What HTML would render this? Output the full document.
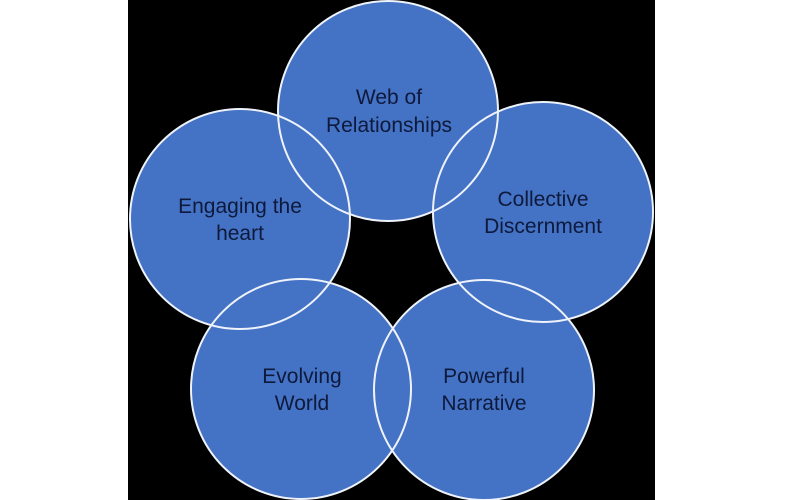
<!DOCTYPE html>
<html><head><meta charset="utf-8"><style>
html,body{margin:0;padding:0;background:#fff;}
svg{display:block;}
text{font-family:"Liberation Sans",sans-serif;font-size:21px;fill:#0e1a3c;text-anchor:middle;}
</style></head><body>
<svg width="800" height="500" viewBox="0 0 800 500" xmlns="http://www.w3.org/2000/svg">
<rect x="0" y="0" width="800" height="500" fill="#fff"/>
<rect x="128" y="0" width="527" height="500" fill="#000"/>
<g fill="#4472c4">
<circle cx="388" cy="111" r="110"/>
<circle cx="240" cy="219" r="110"/>
<circle cx="543" cy="212" r="110"/>
<circle cx="301" cy="389" r="110"/>
<circle cx="484" cy="390" r="110"/>
</g>
<g fill="none" stroke="#eef2fa" stroke-width="2">
<circle cx="388" cy="111" r="110"/>
<circle cx="240" cy="219" r="110"/>
<circle cx="543" cy="212" r="110"/>
<circle cx="301" cy="389" r="110"/>
<circle cx="484" cy="390" r="110"/>
</g>
<text x="389" y="104">Web of</text>
<text x="389" y="132">Relationships</text>
<text x="240" y="213">Engaging the</text>
<text x="240" y="240">heart</text>
<text x="543" y="206">Collective</text>
<text x="543" y="233">Discernment</text>
<text x="302" y="383">Evolving</text>
<text x="302" y="410">World</text>
<text x="484" y="383">Powerful</text>
<text x="484" y="410">Narrative</text>
</svg>
</body></html>
